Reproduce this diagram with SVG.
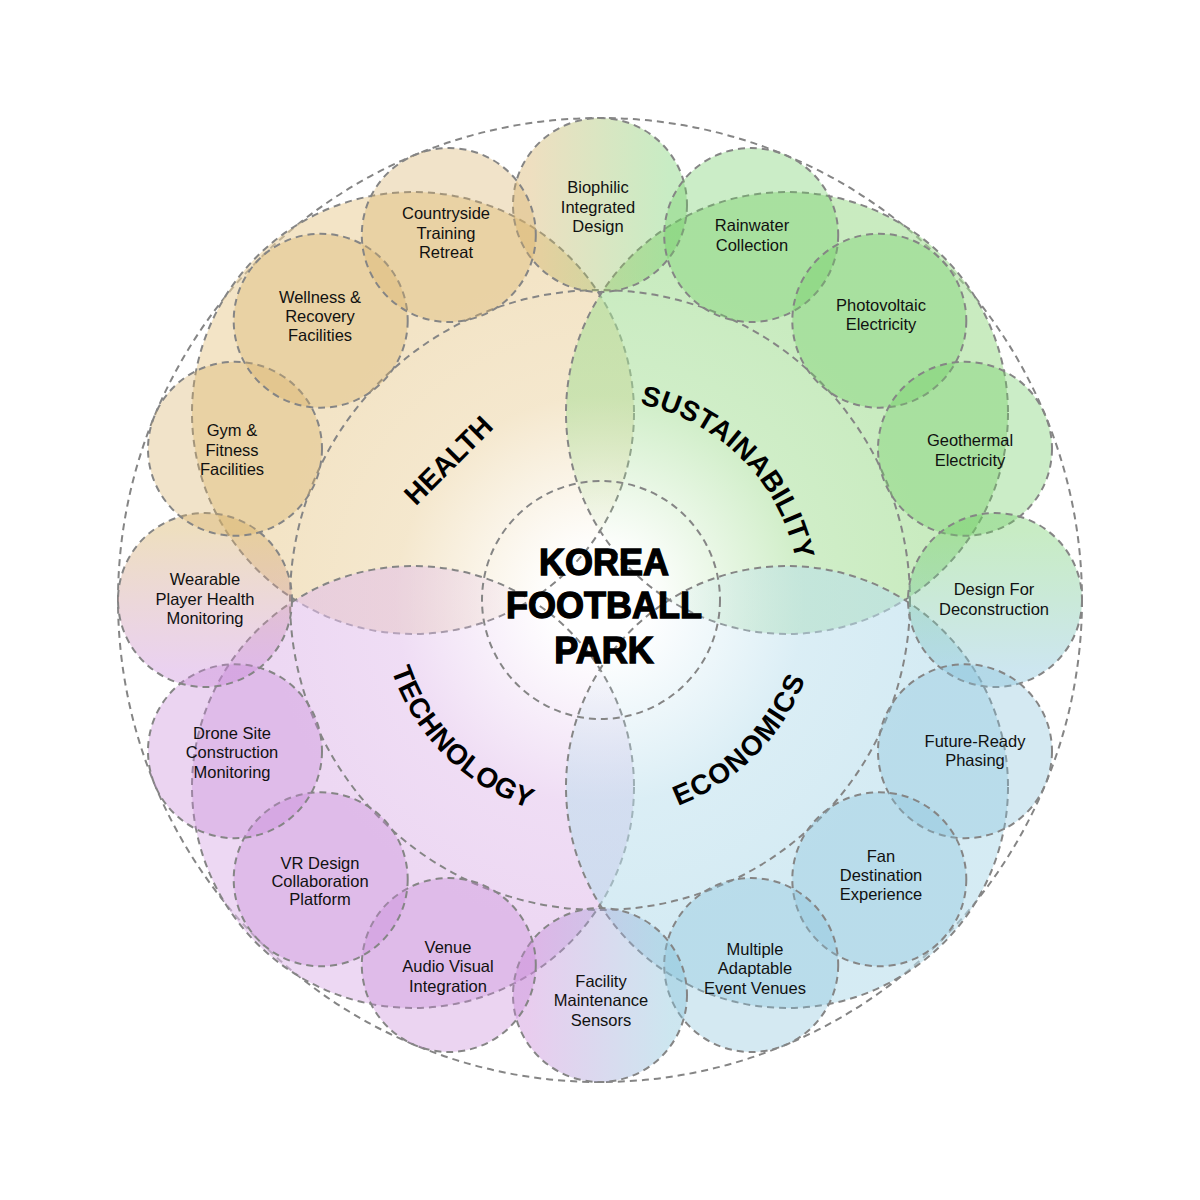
<svg xmlns="http://www.w3.org/2000/svg" width="1200" height="1200" viewBox="0 0 1200 1200">
<style>
.ring{fill:none;stroke:#858585;stroke-width:2;stroke-dasharray:7 5}
.cat,.item{stroke:#858585;stroke-width:2;stroke-dasharray:7 5}
.it{font-family:"Liberation Sans",Arial,Helvetica,sans-serif;font-size:16.5px;fill:#111;text-anchor:middle}
.lbl{font-family:"Liberation Sans",Arial,Helvetica,sans-serif;font-weight:700;font-size:28px;fill:#000}
.ctr{font-family:"Liberation Sans",Arial,Helvetica,sans-serif;font-weight:700;font-size:36px;fill:#000;stroke:#000;stroke-width:1.3;text-anchor:middle}
.iH{fill:#d7b269;fill-opacity:.36}
.iS{fill:#6ecd64;fill-opacity:.36}
.iE{fill:#87c3da;fill-opacity:.36}
.iT{fill:#c887d7;fill-opacity:.36}
</style>
<defs>
<radialGradient id="gH" gradientUnits="userSpaceOnUse" cx="600" cy="600" r="330">
<stop offset="0.14" stop-color="#ebd2a0" stop-opacity="0"/><stop offset="0.62" stop-color="#ebd2a0" stop-opacity="0.52"/><stop offset="1" stop-color="#ebd2a0" stop-opacity="0.6"/></radialGradient>
<radialGradient id="gS" gradientUnits="userSpaceOnUse" cx="600" cy="600" r="330">
<stop offset="0.14" stop-color="#a5de96" stop-opacity="0"/><stop offset="0.62" stop-color="#a5de96" stop-opacity="0.52"/><stop offset="1" stop-color="#a5de96" stop-opacity="0.6"/></radialGradient>
<radialGradient id="gE" gradientUnits="userSpaceOnUse" cx="600" cy="600" r="330">
<stop offset="0.14" stop-color="#b9deec" stop-opacity="0"/><stop offset="0.62" stop-color="#b9deec" stop-opacity="0.52"/><stop offset="1" stop-color="#b9deec" stop-opacity="0.6"/></radialGradient>
<radialGradient id="gT" gradientUnits="userSpaceOnUse" cx="600" cy="600" r="330">
<stop offset="0.14" stop-color="#e1beeb" stop-opacity="0"/><stop offset="0.62" stop-color="#e1beeb" stop-opacity="0.52"/><stop offset="1" stop-color="#e1beeb" stop-opacity="0.6"/></radialGradient>
<linearGradient id="gHS" x1="0" y1="0" x2="1" y2="0">
<stop offset="0.1" stop-color="#d7b269" stop-opacity="0.42"/><stop offset="0.9" stop-color="#6ecd64" stop-opacity="0.38"/></linearGradient>
<linearGradient id="gSE" x1="0" y1="0" x2="0" y2="1">
<stop offset="0.1" stop-color="#6ecd64" stop-opacity="0.38"/><stop offset="0.9" stop-color="#87c3da" stop-opacity="0.42"/></linearGradient>
<linearGradient id="gTE" x1="0" y1="0" x2="1" y2="0">
<stop offset="0.1" stop-color="#c887d7" stop-opacity="0.42"/><stop offset="0.9" stop-color="#87c3da" stop-opacity="0.42"/></linearGradient>
<linearGradient id="gHT" x1="0" y1="0" x2="0" y2="1">
<stop offset="0.1" stop-color="#d7b269" stop-opacity="0.42"/><stop offset="0.9" stop-color="#c887d7" stop-opacity="0.38"/></linearGradient>
<path id="pS" d="M 485.3 436.2 A 200 200 0 0 1 763.8 714.7"/>
<path id="pT" d="M 419.8 473.8 A 220 220 0 0 0 726.2 780.2"/>
<path id="pE" d="M 473.8 780.2 A 220 220 0 0 0 780.2 473.8"/>
</defs>
<rect width="1200" height="1200" fill="#fff"/>
<g id="rings">
<circle class="ring" cx="600" cy="600" r="482"/>
</g>
<g id="cat-health">
<circle class="cat" cx="413" cy="413" r="221" fill="url(#gH)"/>
<text class="lbl" text-anchor="middle" x="448" y="470" transform="rotate(-45 448 460)">HEALTH</text>
</g>
<g id="cat-sustainability">
<circle class="cat" cx="787" cy="413" r="221" fill="url(#gS)"/>
<text class="lbl" letter-spacing="0.3"><textPath href="#pS" startOffset="50%" text-anchor="middle">SUSTAINABILITY</textPath></text>
</g>
<g id="cat-technology">
<circle class="cat" cx="413" cy="787" r="221" fill="url(#gT)"/>
<text class="lbl" letter-spacing="0.5"><textPath href="#pT" startOffset="50%" text-anchor="middle">TECHNOLOGY</textPath></text>
</g>
<g id="cat-economics">
<circle class="cat" cx="787" cy="787" r="221" fill="url(#gE)"/>
<text class="lbl" letter-spacing="1.5"><textPath href="#pE" startOffset="50%" text-anchor="middle">ECONOMICS</textPath></text>
</g>
<g id="middle-ring">
<circle class="ring" cx="600" cy="600" r="310"/>
</g>
<g id="center">
<circle class="ring" cx="601" cy="600" r="119"/>
<text class="ctr" x="604" y="575">KOREA</text>
<text class="ctr" x="604" y="618">FOOTBALL</text>
<text class="ctr" x="604" y="663">PARK</text>
</g>
<g id="items">
<g id="item-biophilic"><circle class="item" cx="600" cy="205" r="87" fill="url(#gHS)"/>
<text class="it"><tspan x="598" y="193">Biophilic</tspan><tspan x="598" y="213">Integrated</tspan><tspan x="598" y="232">Design</tspan></text></g>
<g id="item-rainwater"><circle class="item iS" cx="751.2" cy="235" r="87"/>
<text class="it"><tspan x="752" y="231">Rainwater</tspan><tspan x="752" y="251">Collection</tspan></text></g>
<g id="item-photovoltaic"><circle class="item iS" cx="879.3" cy="320.7" r="87"/>
<text class="it"><tspan x="881" y="311">Photovoltaic</tspan><tspan x="881" y="330">Electricity</tspan></text></g>
<g id="item-geothermal"><circle class="item iS" cx="965" cy="448.8" r="87"/>
<text class="it"><tspan x="970" y="446">Geothermal</tspan><tspan x="970" y="466">Electricity</tspan></text></g>
<g id="item-deconstruction"><circle class="item" cx="995" cy="600" r="87" fill="url(#gSE)"/>
<text class="it"><tspan x="994" y="595">Design For</tspan><tspan x="994" y="615">Deconstruction</tspan></text></g>
<g id="item-phasing"><circle class="item iE" cx="965" cy="751.2" r="87"/>
<text class="it"><tspan x="975" y="747">Future-Ready</tspan><tspan x="975" y="766">Phasing</tspan></text></g>
<g id="item-fan"><circle class="item iE" cx="879.3" cy="879.3" r="87"/>
<text class="it"><tspan x="881" y="862">Fan</tspan><tspan x="881" y="881">Destination</tspan><tspan x="881" y="900">Experience</tspan></text></g>
<g id="item-venues"><circle class="item iE" cx="751.2" cy="965" r="87"/>
<text class="it"><tspan x="755" y="955">Multiple</tspan><tspan x="755" y="974">Adaptable</tspan><tspan x="755" y="994">Event Venues</tspan></text></g>
<g id="item-sensors"><circle class="item" cx="600" cy="995" r="87" fill="url(#gTE)"/>
<text class="it"><tspan x="601" y="987">Facility</tspan><tspan x="601" y="1006">Maintenance</tspan><tspan x="601" y="1026">Sensors</tspan></text></g>
<g id="item-audiovisual"><circle class="item iT" cx="448.8" cy="965" r="87"/>
<text class="it"><tspan x="448" y="953">Venue</tspan><tspan x="448" y="972">Audio Visual</tspan><tspan x="448" y="992">Integration</tspan></text></g>
<g id="item-vr"><circle class="item iT" cx="320.7" cy="879.3" r="87"/>
<text class="it"><tspan x="320" y="869">VR Design</tspan><tspan x="320" y="887">Collaboration</tspan><tspan x="320" y="905">Platform</tspan></text></g>
<g id="item-drone"><circle class="item iT" cx="235" cy="751.2" r="87"/>
<text class="it"><tspan x="232" y="739">Drone Site</tspan><tspan x="232" y="758">Construction</tspan><tspan x="232" y="778">Monitoring</tspan></text></g>
<g id="item-wearable"><circle class="item" cx="205" cy="600" r="87" fill="url(#gHT)"/>
<text class="it"><tspan x="205" y="585">Wearable</tspan><tspan x="205" y="605">Player Health</tspan><tspan x="205" y="624">Monitoring</tspan></text></g>
<g id="item-gym"><circle class="item iH" cx="235" cy="448.8" r="87"/>
<text class="it"><tspan x="232" y="436">Gym &amp;</tspan><tspan x="232" y="456">Fitness</tspan><tspan x="232" y="475">Facilities</tspan></text></g>
<g id="item-wellness"><circle class="item iH" cx="320.7" cy="320.7" r="87"/>
<text class="it"><tspan x="320" y="303">Wellness &amp;</tspan><tspan x="320" y="322">Recovery</tspan><tspan x="320" y="341">Facilities</tspan></text></g>
<g id="item-countryside"><circle class="item iH" cx="448.8" cy="235" r="87"/>
<text class="it"><tspan x="446" y="219">Countryside</tspan><tspan x="446" y="239">Training</tspan><tspan x="446" y="258">Retreat</tspan></text></g>
</g>
<g id="connectors"/>
</svg>
